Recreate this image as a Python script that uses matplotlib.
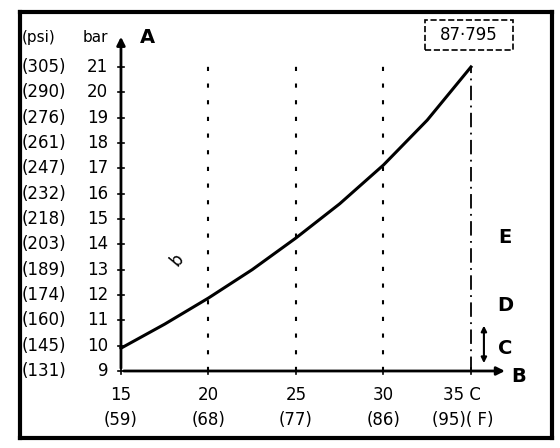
import numpy as np
from matplotlib import pyplot as plt
from matplotlib.patches import Rectangle

# pressure (bar) vs ambient temperature (C)
temp_c = [15, 17.5, 20, 22.5, 25, 27.5, 30, 32.5, 35]
press_bar = [9.9, 10.85, 11.88, 13.0, 14.25, 15.6, 17.13, 18.9, 21.0]

bar_ticks = [21, 20, 19, 18, 17, 16, 15, 14, 13, 12, 11, 10, 9]
psi_labels = ['(305)', '(290)', '(276)', '(261)', '(247)', '(232)', '(218)',
              '(203)', '(189)', '(174)', '(160)', '(145)', '(131)']
x_ticks = [15, 20, 25, 30]
x_top = ['15', '20', '25', '30']
x_bottom = ['(59)', '(68)', '(77)', '(86)']

plt.rcParams['font.family'] = 'DejaVu Sans'
fig = plt.figure(figsize=(5.6, 4.48), dpi=100)
ax = fig.add_axes([0.0357, 0.0223, 0.95, 0.951])
ax.set_xlim(9.23, 39.63)
ax.set_ylim(6.355, 23.17)
ax.set_xticks([])
ax.set_yticks([])
for s in ax.spines.values():
    s.set_linewidth(3)

# axes with arrows
ax.annotate('', xy=(15, 22.3), xytext=(15, 9),
            arrowprops=dict(arrowstyle='-|>', lw=2, color='black', mutation_scale=12))
ax.annotate('', xy=(37.1, 9), xytext=(15, 9),
            arrowprops=dict(arrowstyle='-|>', lw=2, color='black', mutation_scale=12))
ax.text(16.1, 22.15, 'A', fontsize=14, fontweight='bold', va='center')
ax.text(37.3, 8.8, 'B', fontsize=14, fontweight='bold', va='center')

# y ticks and labels
for b, p in zip(bar_ticks, psi_labels):
    ax.plot([14.85, 15.15], [b, b], color='black', lw=1.2)
    ax.text(9.34, b, p, fontsize=12, va='center', ha='left')
    ax.text(14.26, b, str(b), fontsize=12, va='center', ha='right')
ax.text(9.34, 22.15, '(psi)', fontsize=11, va='center', ha='left')
ax.text(14.26, 22.15, 'bar', fontsize=11, va='center', ha='right')

# x ticks and labels
for x, t1, t2 in zip(x_ticks, x_top, x_bottom):
    ax.plot([x, x], [8.88, 9.12], color='black', lw=1.2)
    ax.text(x, 8.05, t1, fontsize=12, va='center', ha='center')
    ax.text(x, 7.07, t2, fontsize=12, va='center', ha='center')
ax.plot([35, 35], [8.88, 9.12], color='black', lw=1.2)
ax.text(34.5, 8.05, '35 C', fontsize=12, va='center', ha='center')
ax.text(34.55, 7.07, '(95)( F)', fontsize=12, va='center', ha='center')

# vertical guide lines
for x in [20, 25, 30]:
    ax.plot([x, x], [9, 21.2], color='black', lw=1.5, linestyle=(0, (2, 6)))
ax.plot([35, 35], [9, 21], color='black', lw=1.3, linestyle=(0, (8, 3, 1, 3)))

# pressure curve
ax.plot(temp_c, press_bar, color='black', lw=2.2)

# part number box
ax.add_patch(Rectangle((32.37, 21.67), 5.03, 1.19, fill=False, ec='black',
                       lw=1.2, linestyle='--'))
ax.text(34.9, 22.27, '87·795', fontsize=12, va='center', ha='center')

# side letters
ax.text(36.94, 14.25, 'E', fontsize=14, fontweight='bold', va='center', ha='center')
ax.text(36.94, 11.6, 'D', fontsize=14, fontweight='bold', va='center', ha='center')
ax.text(36.94, 9.9, 'C', fontsize=14, fontweight='bold', va='center', ha='center')
ax.annotate('', xy=(35.74, 9.2), xytext=(35.74, 10.9),
            arrowprops=dict(arrowstyle='<|-|>', lw=1.5, color='black', mutation_scale=8))

ax.text(18.2, 13.4, 'b', fontsize=12, rotation=50, va='center', ha='center')

fig.savefig('out.png', dpi=100)
